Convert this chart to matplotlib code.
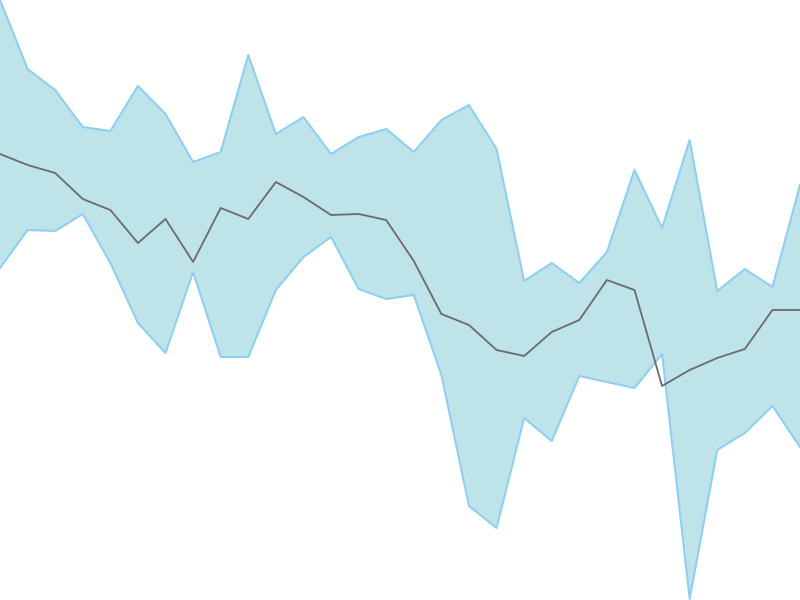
import matplotlib
matplotlib.use("Agg")
import matplotlib.pyplot as plt
import numpy as np

# values (pixel rows from top, 600 high)
upper = [0, 69, 90, 127, 131, 86, 114, 162, 152, 55, 134, 117, 154, 137, 129,
         152, 120, 105, 149, 281, 263, 283, 252, 170, 228, 140, 291, 269, 287, 185]
lower = [268, 230, 231, 214, 263, 323, 353, 272, 357, 357, 290, 257, 237, 289, 299,
         295, 375, 506, 528, 418, 441, 376, 382, 388, 354, 599, 450, 433, 406, 447]
mid = [154, 165, 173, 199, 210, 243, 219, 262, 208, 219, 182, 197, 215, 214, 220,
       261, 314, 325, 350, 356, 332, 320, 280, 290, 386, 370, 358, 349, 310, 310]

x = np.arange(len(mid))
hi = 600 - np.array(upper)
lo = 600 - np.array(lower)
md = 600 - np.array(mid)

fig = plt.figure(figsize=(8, 6), dpi=100)
ax = fig.add_axes([0, 0, 1, 1])
ax.fill_between(x, lo, hi, color="#bee3e9", linewidth=0)
ax.plot(x, hi, color="#8fd0f2", linewidth=1.5)
ax.plot(x, lo, color="#8fd0f2", linewidth=1.5)
ax.plot(x, md, color="#6b6b6b", linewidth=1.3)
ax.set_xlim(0, len(mid) - 1)
ax.set_ylim(0, 600)
ax.axis("off")

fig.savefig("out.png")
